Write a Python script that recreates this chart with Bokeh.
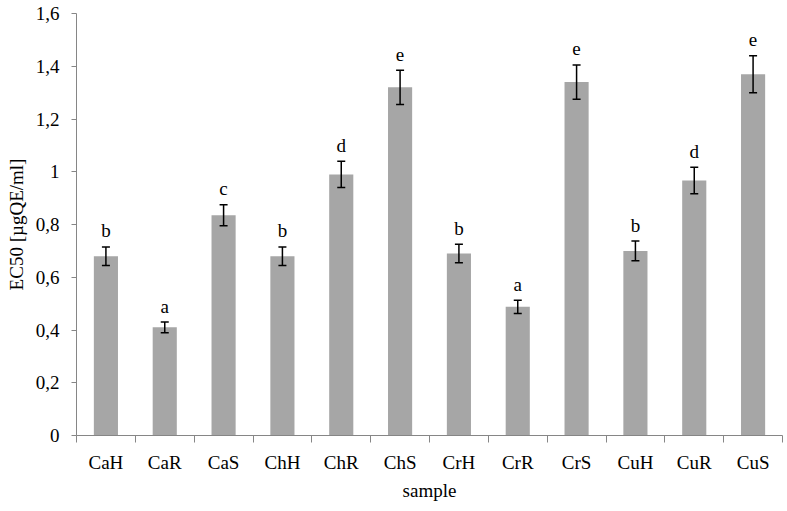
from bokeh.plotting import figure
from bokeh.models import ColumnDataSource, FixedTicker, Whisker, TeeHead, Range1d
from bokeh.core.properties import value
from bokeh.embed import file_html
from bokeh.resources import INLINE

samples = ["CaH", "CaR", "CaS", "ChH", "ChR", "ChS", "CrH", "CrR", "CrS", "CuH", "CuR", "CuS"]
ec50 = [0.68, 0.41, 0.835, 0.68, 0.99, 1.32, 0.69, 0.488, 1.34, 0.70, 0.967, 1.37]
err = [0.035, 0.02, 0.04, 0.035, 0.05, 0.065, 0.035, 0.025, 0.065, 0.037, 0.05, 0.07]
letters = ["b", "a", "c", "b", "d", "e", "b", "a", "e", "b", "d", "e"]
y_ticks = [0, 0.2, 0.4, 0.6, 0.8, 1.0, 1.2, 1.4, 1.6]
y_tick_labels = ["0", "0,2", "0,4", "0,6", "0,8", "1", "1,2", "1,4", "1,6"]

FONT = "Liberation Serif"
FS = "19px"

xpos = [i + 0.5 for i in range(len(samples))]
source = ColumnDataSource(dict(
    x=xpos, top=ec50,
    upper=[v + e for v, e in zip(ec50, err)],
    lower=[v - e for v, e in zip(ec50, err)],
    letter=letters,
))

p = figure(width=785, height=503, output_backend="svg", toolbar_location=None,
           x_range=Range1d(0, len(samples)), y_range=Range1d(0, 1.6),
           x_axis_label="sample", y_axis_label="EC50 [µgQE/ml]")
p.min_border_top = 13
p.min_border_right = 3
p.min_border_left = 76
p.outline_line_color = None
p.grid.visible = False
p.background_fill_color = "white"
p.border_fill_color = "white"

p.vbar(x="x", top="top", width=0.41, bottom=0, source=source,
       fill_color="#a6a6a6", line_color=None)

w = Whisker(source=source, base="x", upper="upper", lower="lower",
            line_color="black", line_width=1.5, level="overlay",
            upper_head=TeeHead(size=8, line_color="black", line_width=1.5),
            lower_head=TeeHead(size=8, line_color="black", line_width=1.5))
p.add_layout(w)

p.text(x="x", y="upper", text="letter", source=source, text_align="center",
       text_baseline="alphabetic", y_offset=-16, text_font=value(FONT),
       text_font_size=FS, text_color="black")

# x axis: labels at category centres, tick marks at category boundaries
xa = p.xaxis[0]
xa.ticker = FixedTicker(ticks=xpos, minor_ticks=list(range(len(samples) + 1)))
xa.major_label_overrides = {x: s for x, s in zip(xpos, samples)}
xa.major_tick_out = 0
xa.major_tick_in = 0
xa.minor_tick_out = 7
xa.minor_tick_in = 0
xa.minor_tick_line_color = "#868686"
xa.axis_line_color = "#868686"
xa.major_label_standoff = 9
xa.axis_label_standoff = 4

ya = p.yaxis[0]
ya.ticker = FixedTicker(ticks=y_ticks)
ya.major_label_overrides = {t: l for t, l in zip(y_ticks, y_tick_labels)}
ya.major_tick_out = 5
ya.major_tick_in = 0
ya.minor_tick_line_color = None
ya.major_tick_line_color = "#868686"
ya.axis_line_color = "#868686"
ya.major_label_standoff = 12
ya.axis_label_standoff = 6

for ax in (xa, ya):
    ax.major_label_text_font = FONT
    ax.major_label_text_font_size = FS
    ax.major_label_text_color = "black"
    ax.axis_label_text_font = FONT
    ax.axis_label_text_font_size = FS
    ax.axis_label_text_font_style = "normal"
    ax.axis_label_text_color = "black"

open("out.html", "w").write(file_html(p, INLINE))
